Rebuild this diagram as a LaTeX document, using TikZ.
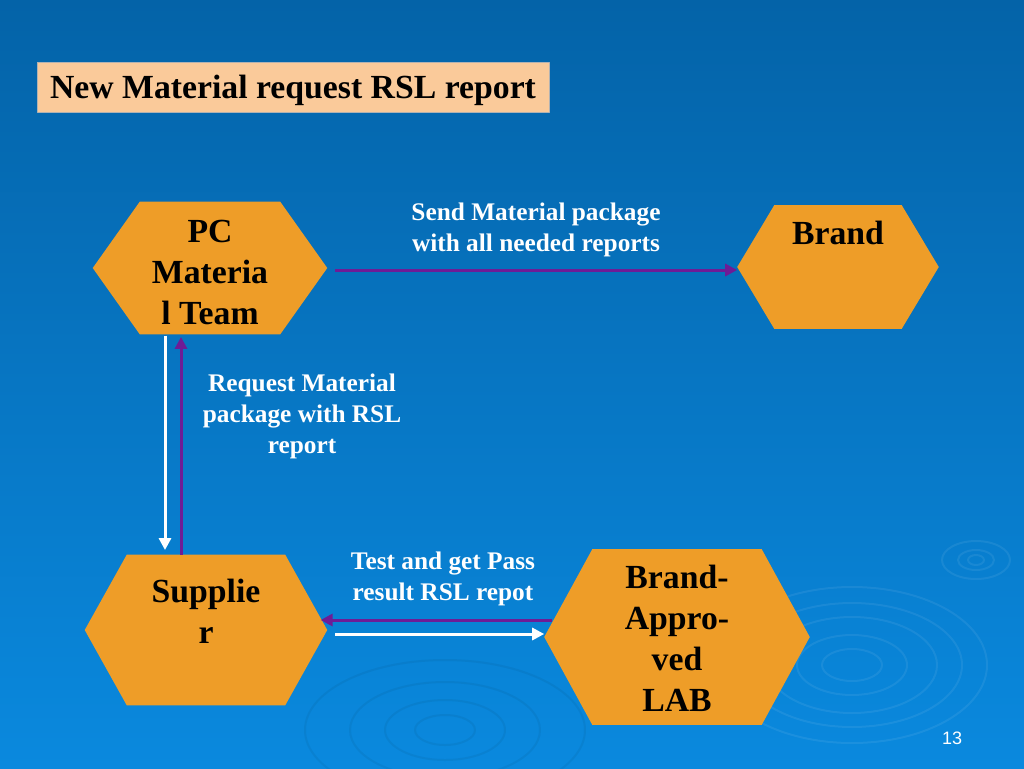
\documentclass[tikz,border=0pt]{standalone}
\usepackage{fontspec}
\setmainfont{Liberation Serif}
\setsansfont{Liberation Sans}
\usetikzlibrary{arrows.meta,calc}
\definecolor{bgtop}{RGB}{4,99,168}
\definecolor{bgbot}{RGB}{10,137,222}
\definecolor{hexorange}{RGB}{238,157,40}
\definecolor{arrowpurple}{RGB}{110,28,150}
\definecolor{titlepeach}{RGB}{250,202,154}
\pgfdeclarelayer{bg}
\pgfdeclarelayer{hex}
\pgfsetlayers{bg,hex,main}
\newcommand{\toprule}[1]{\rule{0pt}{#1}}
\tikzset{
  hexbox/.style={inner sep=0pt,align=center,font=\fontsize{25.3}{30.8}\selectfont\bfseries},
  flowlabel/.style={text=white,align=center,font=\fontsize{19}{23.3}\selectfont\bfseries},
  purplearrow/.style={draw=arrowpurple,line width=2.25pt,-{Triangle[length=9pt,width=9pt]}},
  whitearrow/.style={draw=white,line width=2.25pt,-{Triangle[length=9pt,width=9pt]}},
  ripple/.style={white,opacity=.07,line width=1.5pt}
}
\begin{document}
\begin{tikzpicture}[x=0.75pt,y=-0.75pt,line join=round]
\useasboundingbox (0,0) rectangle (1024,768);
\begin{pgfonlayer}{bg}
  \shade[top color=bgtop,bottom color=bgbot] (0,0) rectangle (1024,768);
  \clip (0,0) rectangle (1024,768);
  % ripples
  \foreach \rx/\ry in {8/5,18/10,34/19}
    \draw[ripple] (976,560) ellipse ({\rx} and {\ry});
  \foreach \rx/\ry in {30/16,55/30,85/48,110/62,135/78}
    \draw[ripple] (852,665) ellipse ({\rx} and {\ry});
  \foreach \rx/\ry in {30/15,60/30,95/48,140/70}
    \draw[ripple,black,opacity=.05] (445,730) ellipse ({\rx} and {\ry});
\end{pgfonlayer}

\node[draw=gray!60,line width=.6pt,fill=titlepeach,minimum width=384pt,minimum height=37.5pt,text depth=0pt,
  font=\fontsize{25.3}{30.8}\selectfont\bfseries] (title) at (293,87) {New Material request RSL report};

\node[hexbox,minimum width=175.5pt,minimum height=99pt] (pc) at (210,268) {\toprule{24pt}PC\\Materia\\l Team};
\node[hexbox,minimum width=150.75pt,minimum height=92.25pt] (brand) at (838,267) {\toprule{27.7pt}Brand\\\mbox{}\\\mbox{}};
\node[hexbox,minimum width=181.5pt,minimum height=112.5pt] (sup) at (206,630) {\toprule{20pt}Supplie\\r\\\mbox{}};
\node[hexbox,minimum width=198.75pt,minimum height=131.25pt] (lab) at (677,637) {\toprule{20pt}Brand-\\Appro-\\ved\\LAB};

\begin{pgfonlayer}{hex}
  \foreach \n/\k in {pc/47,brand/37,sup/42,lab/48}
    \fill[hexorange] (\n.west) -- ([xshift=\k*0.75pt]\n.north west) -- ([xshift=-\k*0.75pt]\n.north east)
      -- (\n.east) -- ([xshift=-\k*0.75pt]\n.south east) -- ([xshift=\k*0.75pt]\n.south west) -- cycle;
\end{pgfonlayer}

% top row
\coordinate (pcout) at ([xshift=6pt,yshift=-1.5pt]pc.east);
\draw[purplearrow] (pcout) -- (pcout -| brand.west);
\node[flowlabel] (sendtxt) at (536,230) {Send Material package\\with all needed reports};

% left column
\coordinate (pcdown) at ([xshift=-33.75pt,yshift=-1pt]pc.south);
\draw[whitearrow] (pcdown) -- ([yshift=3.5pt]pcdown |- sup.north);
\coordinate (supup) at ([xshift=-18.75pt]sup.north);
\draw[purplearrow] (supup) -- ([yshift=-2pt]supup |- pc.south);
\node[flowlabel] (reqtxt) at (302,416) {Request Material\\package with RSL\\report};

% bottom row
\coordinate (labout) at ([xshift=6pt,yshift=12.75pt]lab.west);
\draw[purplearrow] (labout) -- ([xshift=-5pt]labout -| sup.east);
\coordinate (supout) at ([xshift=6pt,yshift=-3pt]sup.east);
\draw[whitearrow] (supout) -- (supout -| lab.west);
\node[flowlabel] (testtxt) at (443,579) {Test and get Pass\\result RSL repot};

\node[text=white,font=\sffamily\fontsize{13.5}{16}\selectfont] (pagenum) at (952,738) {13};
\end{tikzpicture}
\end{document}
